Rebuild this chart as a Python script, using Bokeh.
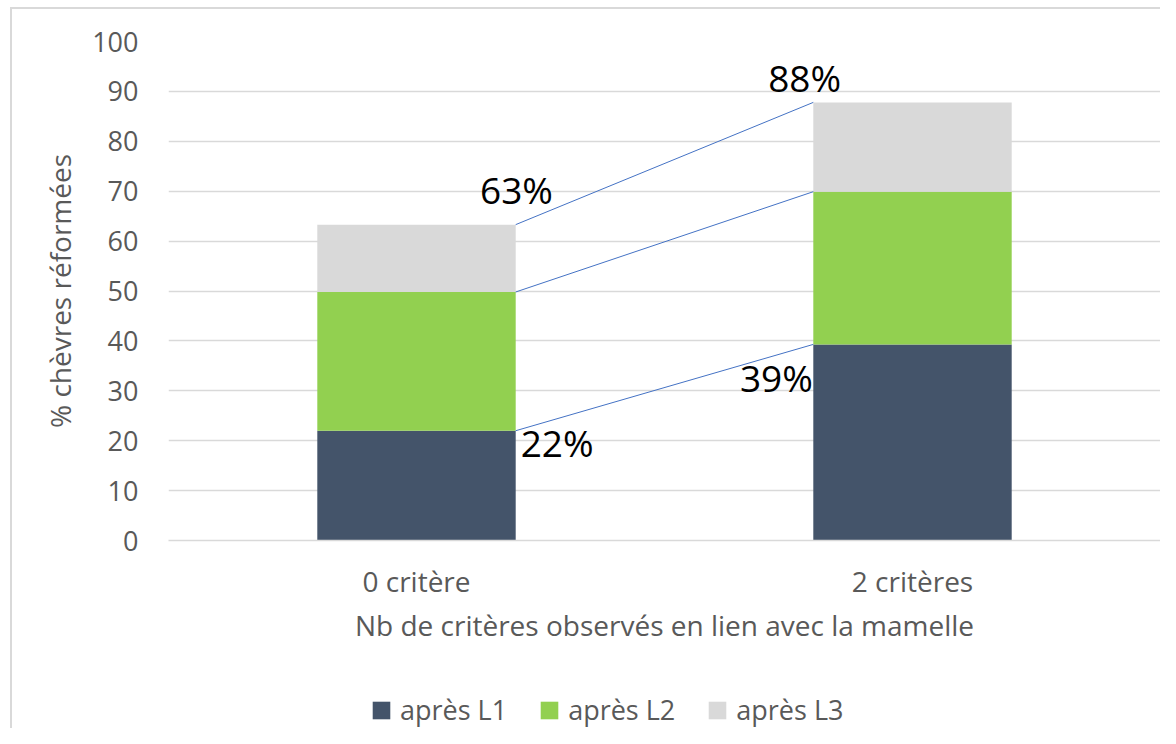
import numpy as np
from bokeh.plotting import figure
from bokeh.layouts import column
from bokeh.models import FactorRange, Range1d, Legend, LegendItem, ColumnDataSource
from bokeh.transform import dodge
from bokeh.core.properties import value
from bokeh.embed import file_html
from bokeh.resources import INLINE

# ---- data ----
categories = ["0 critère", "2 critères"]
series = ["après L1", "après L2", "après L3"]
apres_L1 = [22.0, 39.3]
apres_L2 = [27.8, 30.6]
apres_L3 = [13.5, 17.9]
y_ticks = [0, 10, 20, 30, 40, 50, 60, 70, 80, 90, 100]

# ---- style ----
colors = ["#44546A", "#92D050", "#D9D9D9"]
FONT = "Open Sans"
GREY_TXT = "#595959"
BAR_W = 0.4

# label placement (offsets relative to bars / values)
lab_dx = [0.21, 0.128, -0.201, -0.291]
lab_dy = [-2.4, 7.0, -6.6, 5.0]
lab_align = ["left", "left", "right", "left"]

p = figure(
    x_range=FactorRange(*categories),
    y_range=Range1d(0, 100),
    width=1160, height=672,
    output_backend="svg", toolbar_location=None,
    min_border_left=168, min_border_right=0,
    min_border_top=41, min_border_bottom=132,
    border_fill_color=None, background_fill_color=None,
)

src = ColumnDataSource(dict(cat=categories, L1=apres_L1, L2=apres_L2, L3=apres_L3))
rends = p.vbar_stack(["L1", "L2", "L3"], x="cat", width=BAR_W, color=colors,
                     line_color=None, source=src)

# series lines between stacks
c0 = np.cumsum([apres_L1[0], apres_L2[0], apres_L3[0]])
c1 = np.cumsum([apres_L1[1], apres_L2[1], apres_L3[1]])
seg = ColumnDataSource(dict(a=[categories[0]] * 3, b=[categories[1]] * 3,
                            y0=list(c0), y1=list(c1)))
p.segment(x0=dodge("a", BAR_W / 2, range=p.x_range), y0="y0",
          x1=dodge("b", -BAR_W / 2, range=p.x_range), y1="y1",
          source=seg, line_color="#4472C4", line_width=1)

# percentage labels
lab_vals = [apres_L1[0], c0[-1], apres_L1[1], c1[-1]]
lab_cats = [categories[0], categories[0], categories[1], categories[1]]
lab_text = [f"{round(v)}%" for v in lab_vals]
lab_y = [v + dy for v, dy in zip(lab_vals, lab_dy)]
for i in range(4):
    s = ColumnDataSource(dict(c=[lab_cats[i]], y=[lab_y[i]], t=[lab_text[i]]))
    p.text(x=dodge("c", lab_dx[i], range=p.x_range), y="y", text="t", source=s,
           text_font=value(FONT), text_font_size="37px", text_color="black",
           text_align=lab_align[i], text_baseline="alphabetic")

# axes & grid
p.yaxis.ticker = y_ticks
p.yaxis.axis_line_color = None
p.yaxis.major_tick_line_color = None
p.yaxis.minor_tick_line_color = None
p.yaxis.major_label_standoff = 24
p.yaxis.axis_label = "% chèvres réformées"
p.yaxis.axis_label_standoff = 10
p.yaxis.major_label_text_font_size = "27px"

p.xaxis.axis_line_color = "#D9D9D9"
p.xaxis.axis_line_width = 1.5
p.xaxis.major_tick_line_color = None
p.xaxis.major_label_standoff = 15
p.xaxis.axis_label = "Nb de critères observés en lien avec la mamelle"
p.xaxis.axis_label_standoff = 3
p.xaxis.major_label_text_font_size = "28px"

for ax in (p.xaxis, p.yaxis):
    ax.major_label_text_font = FONT
    ax.major_label_text_color = GREY_TXT
    ax.axis_label_text_font = FONT
    ax.axis_label_text_font_size = "28px"
    ax.axis_label_text_font_style = "normal"
    ax.axis_label_text_color = GREY_TXT

p.xgrid.grid_line_color = None
p.ygrid.grid_line_color = "#D9D9D9"
p.ygrid.grid_line_width = 1.5
p.outline_line_color = None

# ---- legend strip (separate figure below the chart) ----
pl = figure(width=1160, height=56, x_range=Range1d(0, 1), y_range=Range1d(0, 1),
            output_backend="svg", toolbar_location=None,
            x_axis_type=None, y_axis_type=None,
            min_border_left=0, min_border_right=0, min_border_top=0, min_border_bottom=0,
            border_fill_color=None, background_fill_color=None)
pl.grid.visible = False
pl.outline_line_color = None
# legend key renderers (zero-height, invisible in the strip)
keys = [pl.vbar(x=[0.5], top=[0], bottom=[0], width=0.01, color=c, line_color=None)
        for c in colors]
legend = Legend(
    items=[LegendItem(label=s, renderers=[r]) for s, r in zip(series, keys)],
    orientation="horizontal", location=(202, 0),
    label_text_font=FONT, label_text_font_size="27px", label_text_color=GREY_TXT,
    glyph_width=22, glyph_height=22, label_standoff=8, spacing=31,
    border_line_color=None, background_fill_alpha=0, margin=0, padding=0,
)
pl.add_layout(legend, "center")

layout = column(p, pl, spacing=0)
layout.styles = {
    "background-color": "white",
    "background-image": "linear-gradient(#D9D9D9, #D9D9D9), linear-gradient(#D9D9D9, #D9D9D9)",
    "background-size": "2px 100%, 100% 2px",
    "background-position": "10px 7px, 10px 7px",
    "background-repeat": "no-repeat",
}
open("out.html", "w").write(file_html(layout, INLINE))
